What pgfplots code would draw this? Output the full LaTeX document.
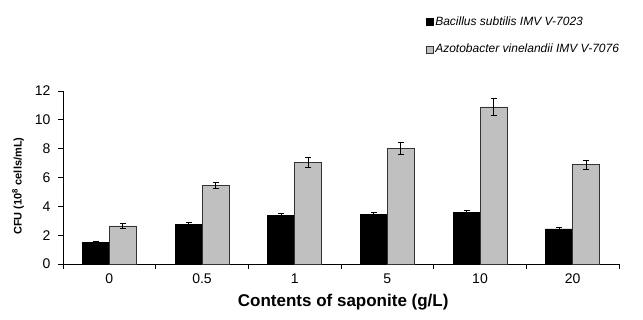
\documentclass[border=0pt]{standalone}
\usepackage{pgfplots}
\pgfplotsset{compat=1.18}
\usepackage{pgfplotstable}
\usepackage{fontspec}
\setmainfont{Liberation Sans}
\definecolor{barg}{HTML}{C0C0C0}
\definecolor{edg}{HTML}{333333}
\pgfplotstableread{
x b be g ge
0 1.51 0.09 2.64 0.15
1 2.73 0.13 5.44 0.22
2 3.36 0.13 7.04 0.37
3 3.42 0.15 8.01 0.40
4 3.57 0.13 10.89 0.60
5 2.43 0.13 6.88 0.30
}\datatable
\begin{document}
\begin{tikzpicture}
\useasboundingbox (0,0) rectangle (643pt,320pt);
\begin{axis}[
  at={(63pt,56pt)}, anchor=south west,
  scale only axis, width=556pt, height=173pt,
  ybar=0pt, bar width=27pt,
  xmin=-0.5, xmax=5.5, ymin=0, ymax=12,
  axis lines=left, axis line style={-, black, line width=0.8pt},
  xtick={0,...,5}, xticklabels={0,0.5,1,5,10,20},
  major x tick style={draw=none},
  minor xtick={-0.5,0.5,...,5.5},
  minor x tick style={black, line width=0.8pt},
  minor tick length=5pt,
  ytick={0,2,...,12},
  y tick style={black, line width=0.8pt},
  major tick length=5pt,
  tick align=outside,
  tick label style={font=\fontsize{14}{16}\selectfont},
  xticklabel style={yshift=-1.5pt},
  yticklabel style={xshift=-4pt},
  /pgf/number format/assume math mode=true,
  xlabel={Contents of saponite (g/L)},
  xlabel style={font=\fontsize{17}{20}\selectfont\bfseries, at={(axis description cs:0.504,-0.22)}, anchor=center},
  ylabel={CFU (10\textsuperscript{8} cells/mL)},
  ylabel style={font=\fontsize{11}{13}\selectfont\bfseries, at={(axis description cs:-0.081,0.45)}, anchor=center},
  legend style={draw=none, fill=none, at={(axis description cs:0.652,1.44)}, anchor=north west,
    font=\fontsize{12}{14}\selectfont\itshape, row sep=13pt, inner sep=0pt},
  legend cell align=left,
  clip=false,
]
\addplot[fill=black, draw=black, line width=0.6pt,
  legend image code/.code={\draw[fill=black, draw=black, line width=0.6pt] (0pt,-3.5pt) rectangle (7pt,3.5pt);},
  error bars/.cd, y dir=both, y explicit,
  error bar style={black, line width=0.8pt},
  error mark options={rotate=90, mark size=3pt, black, line width=0.8pt}]
  table[x=x, y=b, y error=be] {\datatable};
\addlegendentry{Bacillus subtilis IMV V-7023}
\addplot[fill=barg, draw=edg, line width=0.8pt,
  legend image code/.code={\draw[fill=barg, draw=edg, line width=0.6pt] (0pt,-3.5pt) rectangle (7pt,3.5pt);},
  error bars/.cd, y dir=both, y explicit,
  error bar style={black, line width=0.8pt},
  error mark options={rotate=90, mark size=3pt, black, line width=0.8pt}]
  table[x=x, y=g, y error=ge] {\datatable};
\addlegendentry{Azotobacter vinelandii IMV V-7076}
\end{axis}
\end{tikzpicture}
\end{document}
